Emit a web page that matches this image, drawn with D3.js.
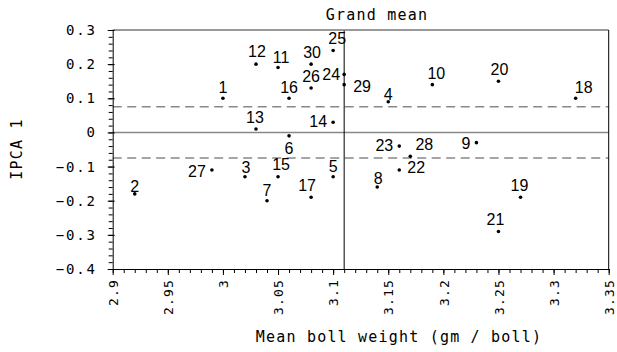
<!DOCTYPE html>
<html>
<head>
<meta charset="utf-8">
<script src="https://cdn.jsdelivr.net/npm/d3@7"></script>
<style>
  body { margin: 0; background: #fff; }
  .mono { font-family: "DejaVu Sans Mono", monospace; font-size: 15px; letter-spacing: 1.2px; fill: #000; }
  .ytick { font-family: "DejaVu Sans Mono", monospace; font-size: 14px; letter-spacing: 1.8px; fill: #000; }
  .xtick { font-family: "DejaVu Sans Mono", monospace; font-size: 13px; letter-spacing: 1.2px; fill: #000; }
  .pt { font-family: "Liberation Sans", Arial, sans-serif; font-size: 16px; fill: #000; }
</style>
</head>
<body>
<script>
// Données : génotypes, poids moyen des capsules et score IPCA 1
const genotypes = [1, 2, 3, 4, 5, 6, 7, 8, 9, 10, 11, 12, 13, 14, 15, 16, 17, 18, 19, 20, 21, 22, 23, 24, 25, 26, 27, 28, 29, 30];
const bollWeight = [3.00, 2.92, 3.02, 3.15, 3.10, 3.06, 3.04, 3.14, 3.23, 3.19, 3.05, 3.03, 3.03, 3.10, 3.05, 3.06, 3.08, 3.32, 3.27, 3.25, 3.25, 3.16, 3.16, 3.11, 3.10, 3.08, 2.99, 3.17, 3.11, 3.08];
const ipca1 = [0.10, -0.18, -0.13, 0.09, -0.13, -0.01, -0.20, -0.16, -0.03, 0.14, 0.19, 0.20, 0.01, 0.03, -0.13, 0.10, -0.19, 0.10, -0.19, 0.15, -0.29, -0.11, -0.04, 0.17, 0.24, 0.13, -0.11, -0.07, 0.14, 0.20];
const xTicks = [2.9, 2.95, 3, 3.05, 3.1, 3.15, 3.2, 3.25, 3.3, 3.35];
const yTicks = [0.3, 0.2, 0.1, 0, -0.1, -0.2, -0.3, -0.4];
const bandLimit = 0.075;

//Taille de la feuille
const WIDTH = 617;
const HEIGHT = 352;
const mLeft = 112.7, mRight = 608.7, mTop = 30, mBottom = 269;

const svg = d3.select("body").append("svg")
  .attr("width", WIDTH)
  .attr("height", HEIGHT);

const x = d3.scaleLinear().domain([2.9, 3.35]).range([mLeft, mRight]);
const y = d3.scaleLinear().domain([-0.4, 0.3]).range([mBottom, mTop]);

//Lignes de référence
const grandMean = d3.mean(bollWeight);
svg.append("line")
  .attr("x1", mLeft).attr("x2", mRight)
  .attr("y1", y(0)).attr("y2", y(0))
  .attr("stroke", "#888").attr("stroke-width", 1.5);
[bandLimit, -bandLimit].forEach(v => {
  svg.append("line")
    .attr("x1", mLeft).attr("x2", mRight)
    .attr("y1", y(v)).attr("y2", y(v))
    .attr("stroke", "#888").attr("stroke-width", 1.5)
    .attr("stroke-dasharray", "9,5.5");
});
svg.append("line")
  .attr("x1", x(grandMean)).attr("x2", x(grandMean))
  .attr("y1", mTop).attr("y2", mBottom)
  .attr("stroke", "#000").attr("stroke-width", 1);

//Cadre haut et droit
svg.append("line").attr("x1", mLeft).attr("x2", mRight).attr("y1", mTop).attr("y2", mTop)
  .attr("stroke", "#777").attr("stroke-width", 1.5);
svg.append("line").attr("x1", mRight).attr("x2", mRight).attr("y1", mTop).attr("y2", mBottom)
  .attr("stroke", "#000").attr("stroke-width", 1);

//Axe X : petites graduations puis grandes
const xMinor = d3.range(290, 336).map(d => d / 100);
svg.append("g")
  .attr("transform", `translate(0,${mBottom})`)
  .call(d3.axisBottom(x).tickValues(xMinor).tickSize(4).tickSizeOuter(0).tickFormat(""))
  .call(g => g.select(".domain").remove());
const gx = svg.append("g")
  .attr("transform", `translate(0,${mBottom})`)
  .call(d3.axisBottom(x).tickValues(xTicks).tickSize(6).tickSizeOuter(0).tickFormat(d3.format("")));
gx.select(".domain").attr("stroke", "#000");
gx.selectAll("text")
  .attr("class", "xtick")
  .attr("font-family", null).attr("font-size", null)
  .attr("transform", "rotate(-90)")
  .attr("x", -10).attr("y", 0).attr("dy", "0.36em")
  .attr("text-anchor", "end");

//Axe Y
const yMinor = d3.range(-40, 31, 2).map(d => d / 100);
svg.append("g")
  .attr("transform", `translate(${mLeft},0)`)
  .call(d3.axisLeft(y).tickValues(yMinor).tickSize(4).tickSizeOuter(0).tickFormat(""))
  .call(g => g.select(".domain").remove());
const gy = svg.append("g")
  .attr("transform", `translate(${mLeft},0)`)
  .call(d3.axisLeft(y).tickValues(yTicks).tickSize(5).tickSizeOuter(0).tickPadding(11).tickFormat(d3.format("")));
gy.selectAll(".tick line").attr("x1", 2);
gy.selectAll("text").attr("class", "ytick").attr("font-family", null).attr("font-size", null);

//Titres
svg.append("text").attr("class", "mono")
  .attr("x", 377).attr("y", 20).attr("text-anchor", "middle")
  .text("Grand mean");
svg.append("text").attr("class", "mono")
  .attr("x", 399).attr("y", 342).attr("text-anchor", "middle")
  .text("Mean boll weight (gm / boll)");
svg.append("text").attr("class", "mono")
  .attr("transform", "translate(22,149) rotate(-90)")
  .attr("text-anchor", "middle")
  .text("IPCA 1");

//Placement des étiquettes autour des points
const place = {
  1: [0, -5, "middle"], 2: [0, -2, "middle"], 3: [1, -4, "middle"], 4: [0, -2, "middle"],
  5: [0, -5, "middle"], 6: [0, 18, "middle"], 7: [0, -5, "middle"], 8: [1, -3, "middle"],
  9: [-6, 6, "end"], 10: [4, -6, "middle"], 11: [3, -5, "middle"], 12: [1, -7, "middle"],
  13: [-1, -6, "middle"], 14: [-6, 5, "end"], 15: [3, -7, "middle"], 16: [0, -5, "middle"],
  17: [-4, -6, "middle"], 18: [8, -5, "middle"], 19: [-1, -6, "middle"], 20: [1, -6, "middle"],
  21: [-3, -6, "middle"], 22: [8, 3, "start"], 23: [-6, 5, "end"], 24: [-4, 6, "end"],
  25: [4, -6, "middle"], 26: [0, -6, "middle"], 27: [-6, 7, "end"], 28: [14, -6, "middle"],
  29: [9, 7, "start"], 30: [1, -6, "middle"]
};

const pts = svg.append("g").selectAll("g")
  .data(genotypes)
  .enter()
  .append("g");
pts.append("circle")
  .attr("cx", (d, i) => x(bollWeight[i]))
  .attr("cy", (d, i) => y(ipca1[i]))
  .attr("r", 1.8)
  .attr("fill", "#000");
pts.append("text")
  .attr("class", "pt")
  .attr("x", (d, i) => x(bollWeight[i]) + place[d][0])
  .attr("y", (d, i) => y(ipca1[i]) + place[d][1])
  .attr("text-anchor", d => place[d][2])
  .text(d => d);
</script>
</body>
</html>
